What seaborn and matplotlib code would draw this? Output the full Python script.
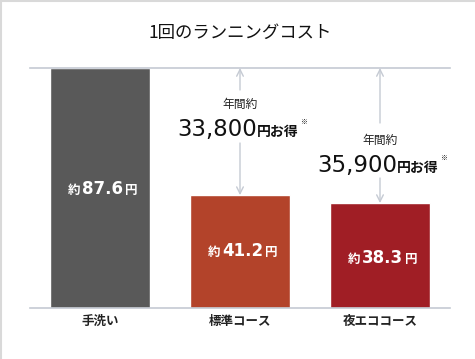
import matplotlib
matplotlib.use("Agg")
import matplotlib.pyplot as plt
import seaborn as sns
import pandas as pd
from matplotlib.lines import Line2D

courses = ["手洗い", "標準コース", "夜エココース"]
costs = [87.6, 41.2, 38.3]
cost_labels = ["87.6", "41.2", "38.3"]
savings = ["33,800", "35,900"]
bar_colors = ["#595959", "#B3432A", "#A01E25"]
title = "1回のランニングコスト"

sns.set_theme(style="white")
plt.rcParams["font.family"] = ["Noto Sans CJK JP", "DejaVu Sans"]

df = pd.DataFrame({"course": courses, "cost": costs})

fig = plt.figure(figsize=(4.75, 3.59), dpi=100)
ax = fig.add_axes([30 / 475, 51 / 359, 420 / 475, 240 / 359])

sns.barplot(data=df, x="course", y="cost", hue="course", palette=bar_colors,
            width=0.714, saturation=1, legend=False, ax=ax)

ymax = costs[0]
ax.set_xlim(-0.5, 2.5)
ax.set_ylim(0, ymax)
ax.set_xlabel("")
ax.set_ylabel("")
ax.set_yticks([])
for s in ["left", "right"]:
    ax.spines[s].set_visible(False)
for s in ["top", "bottom"]:
    ax.spines[s].set_color("#C5CAD3")
    ax.spines[s].set_linewidth(1.2)
ax.tick_params(axis="x", length=0, pad=5)
for lab in ax.get_xticklabels():
    lab.set_fontsize(9)
    lab.set_fontweight("bold")
    lab.set_color("#222222")


def px2y(p):
    return (308 - p) / 240 * ymax


# value labels inside bars
label_y = [px2y(194), px2y(256), px2y(263)]
for i, (lab, y) in enumerate(zip(cost_labels, label_y)):
    t = ax.text(i + 0.02, y, lab, ha="center", va="baseline", color="white",
                fontsize=12, fontweight="bold", family="DejaVu Sans")
    ax.annotate("約", xy=(0, y), xycoords=(t, "data"), xytext=(-1.5, 0),
                textcoords="offset points", ha="right", va="baseline",
                color="white", fontsize=9, fontweight="bold")
    ax.annotate("円", xy=(1, y), xycoords=(t, "data"), xytext=(1.5, 0),
                textcoords="offset points", ha="left", va="baseline",
                color="white", fontsize=9, fontweight="bold")

# savings arrows and texts
arrow_col = "#C5CAD3"
arrow_gaps = [(px2y(90), px2y(143)), (px2y(123), px2y(178))]
head_y = [px2y(104), px2y(140)]
num_y = [px2y(136), px2y(172)]
for k, i in enumerate([1, 2]):
    up, low = arrow_gaps[k]
    ax.annotate("", xy=(i, ymax), xytext=(i, up),
                arrowprops=dict(arrowstyle="->", color=arrow_col, lw=1,
                                shrinkA=0, shrinkB=0, mutation_scale=12))
    ax.annotate("", xy=(i, costs[i]), xytext=(i, low),
                arrowprops=dict(arrowstyle="->", color=arrow_col, lw=1,
                                shrinkA=0, shrinkB=0, mutation_scale=12))
    ax.text(i, head_y[k], "年間約", ha="center", va="center", fontsize=8.5,
            color="#222222")
    t = ax.text(i + 17 / 140, num_y[k], savings[k], ha="right", va="baseline",
                fontsize=16.5, color="#111111", family="DejaVu Sans")
    t2 = ax.annotate("円お得", xy=(1, num_y[k]), xycoords=(t, "data"),
                     ha="left", va="baseline", fontsize=10, fontweight="bold",
                     color="#111111")
    ax.annotate("※", xy=(1, num_y[k]), xycoords=(t2, "data"), xytext=(1, 9),
                textcoords="offset points", ha="left", va="baseline",
                fontsize=5, color="#111111")

fig.text(240 / 475, 1 - 33 / 359, title, ha="center", va="center",
         fontsize=12.5, color="#111111")

# light frame on the left and top edge
fig.add_artist(Line2D([0.002, 0.002], [0, 1], color="#D9D9D9", lw=1.5,
                      transform=fig.transFigure))
fig.add_artist(Line2D([0, 1], [0.997, 0.997], color="#D9D9D9", lw=1.5,
                      transform=fig.transFigure))

fig.savefig("out.png", dpi=100)
